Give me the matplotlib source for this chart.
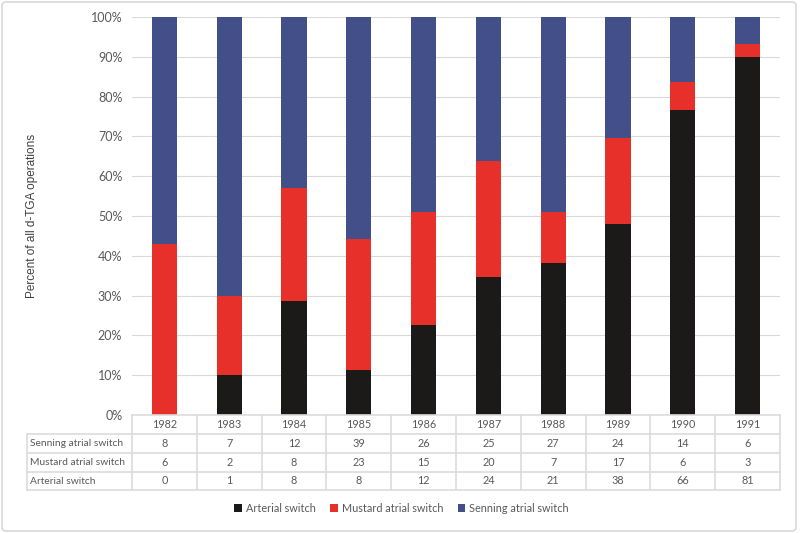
import matplotlib
matplotlib.use("Agg")
import matplotlib.pyplot as plt
import numpy as np
from matplotlib.patches import FancyBboxPatch
from matplotlib.lines import Line2D

years = ["1982", "1983", "1984", "1985", "1986", "1987", "1988", "1989", "1990", "1991"]
senning = [8, 7, 12, 39, 26, 25, 27, 24, 14, 6]
mustard = [6, 2, 8, 23, 15, 20, 7, 17, 6, 3]
arterial = [0, 1, 8, 8, 12, 24, 21, 38, 66, 81]
row_labels = ["Senning atrial switch", "Mustard atrial switch", "Arterial switch"]

c_art = "#1b1a18"
c_mus = "#e8302b"
c_sen = "#434f88"
txt = "#595959"
grid = "#d9d9d9"
FONT = "Lato"

W, H = 800, 533
fig = plt.figure(figsize=(8, 5.33), dpi=100)

def fx(px):
    return px / W

def fy(py):
    return 1 - py / H

x0, x1 = 132, 780
ytop, ybot = 17, 415
ax = fig.add_axes([fx(x0), fy(ybot), fx(x1) - fx(x0), fy(ytop) - fy(ybot)])

n = len(years)
tot = np.array(senning) + np.array(mustard) + np.array(arterial)
pa = np.array(arterial) / tot * 100
pm = np.array(mustard) / tot * 100
ps = np.array(senning) / tot * 100
x = np.arange(n)
bw = 0.39
ax.bar(x, pa, bw, color=c_art, zorder=3, label="Arterial switch")
ax.bar(x, pm, bw, bottom=pa, color=c_mus, zorder=3, label="Mustard atrial switch")
ax.bar(x, ps, bw, bottom=pa + pm, color=c_sen, zorder=3, label="Senning atrial switch")

ax.set_xlim(-0.5, n - 0.5)
ax.set_ylim(0, 100)
ax.set_yticks(np.arange(0, 101, 10))
ax.set_yticklabels([f"{v}%" for v in range(0, 101, 10)], fontsize=9, color=txt, family=FONT)
ax.yaxis.grid(True, color=grid, linewidth=0.8, zorder=0)
ax.set_xticks([])
ax.tick_params(axis="y", length=0, pad=7)
for s in ax.spines.values():
    s.set_visible(False)
ax.set_ylabel("Percent of all d-TGA operations", fontsize=8.5, color="#404040",
              family="Liberation Sans", labelpad=38)

# Data table
cell_w = (x1 - x0) / n
rows_y = [415, 434, 453, 472, 490]
lab_x = 27
lc = "#dcdcdc"
TFS = 7.8
LFS = 7.4

def hline(xa, xb, y):
    fig.add_artist(Line2D([fx(xa), fx(xb)], [fy(y), fy(y)], color=lc, lw=1.2))

def vline(xv, ya, yb):
    fig.add_artist(Line2D([fx(xv), fx(xv)], [fy(ya), fy(yb)], color=lc, lw=1.2))

hline(x0, x1, rows_y[0])
for y in rows_y[1:]:
    hline(lab_x, x1, y)
vline(lab_x, rows_y[1], rows_y[4])
for i in range(n + 1):
    vline(x0 + i * cell_w, rows_y[0], rows_y[4])

for i, yr in enumerate(years):
    cx = x0 + (i + 0.5) * cell_w
    fig.text(fx(cx), fy((rows_y[0] + rows_y[1]) / 2), yr, ha="center", va="center",
             fontsize=TFS, color=txt, family=FONT)
table_vals = [senning, mustard, arterial]
for r, (lab, vals) in enumerate(zip(row_labels, table_vals)):
    cy = (rows_y[r + 1] + rows_y[r + 2]) / 2
    fig.text(fx(lab_x + 3), fy(cy), lab, ha="left", va="center", fontsize=LFS,
             color=txt, family=FONT)
    for i, v in enumerate(vals):
        cx = x0 + (i + 0.5) * cell_w
        fig.text(fx(cx), fy(cy), str(v), ha="center", va="center", fontsize=TFS,
                 color=txt, family=FONT)

# Legend
handles, labels = ax.get_legend_handles_labels()
leg = fig.legend(handles, labels, loc="center", bbox_to_anchor=(0.502, fy(508)), ncol=3,
                 frameon=False, fontsize=7.8, handlelength=0.7, handleheight=0.7,
                 handletextpad=0.4, columnspacing=1.3)
for t in leg.get_texts():
    t.set_color(txt)
    t.set_family(FONT)

# Outer border
fig.add_artist(FancyBboxPatch((fx(2), fy(531)), fx(796) - fx(2), fy(2) - fy(531),
                              boxstyle="round,pad=0,rounding_size=0.006",
                              transform=fig.transFigure, fill=False,
                              edgecolor="#d9d9d9", lw=1.2))

fig.savefig("out.png", dpi=100, facecolor="white")
